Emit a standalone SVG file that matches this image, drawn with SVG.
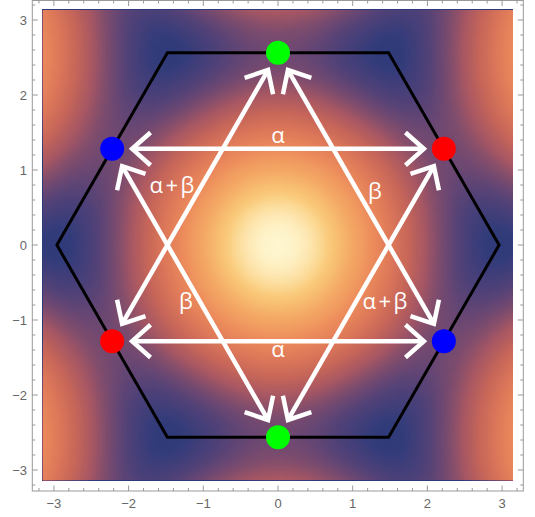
<svg xmlns="http://www.w3.org/2000/svg" xmlns:xlink="http://www.w3.org/1999/xlink" width="535" height="517" viewBox="0 0 535 517">
<style>
.tick{fill:none;stroke:#999;stroke-width:1}
.tl{font-family:"Liberation Sans",Arial,sans-serif;font-size:13px;fill:#666}
.arr{stroke:#fff;stroke-width:4.5;fill:none;marker-start:url(#hd);marker-end:url(#hd)}
.lab{font-family:"Open Sans","Noto Sans","DejaVu Sans",sans-serif;font-size:22px;fill:#fff;text-anchor:middle}
.wide{letter-spacing:2.5px}
.hex{fill:none;stroke:#000;stroke-width:3;stroke-linejoin:miter}
</style>
<defs>
<linearGradient id="gR" gradientUnits="userSpaceOnUse" x1="278" y1="245" x2="610.2" y2="245" spreadMethod="repeat">
<stop offset="0" stop-color="rgb(255,0,0)"/><stop offset="0.041667" stop-color="rgb(251,0,0)"/><stop offset="0.083333" stop-color="rgb(238,0,0)"/><stop offset="0.125" stop-color="rgb(218,0,0)"/><stop offset="0.166667" stop-color="rgb(191,0,0)"/><stop offset="0.208333" stop-color="rgb(160,0,0)"/><stop offset="0.25" stop-color="rgb(128,0,0)"/><stop offset="0.291667" stop-color="rgb(95,0,0)"/><stop offset="0.333333" stop-color="rgb(64,0,0)"/><stop offset="0.375" stop-color="rgb(37,0,0)"/><stop offset="0.416667" stop-color="rgb(17,0,0)"/><stop offset="0.458333" stop-color="rgb(4,0,0)"/><stop offset="0.5" stop-color="rgb(0,0,0)"/><stop offset="0.541667" stop-color="rgb(4,0,0)"/><stop offset="0.583333" stop-color="rgb(17,0,0)"/><stop offset="0.625" stop-color="rgb(37,0,0)"/><stop offset="0.666667" stop-color="rgb(64,0,0)"/><stop offset="0.708333" stop-color="rgb(95,0,0)"/><stop offset="0.75" stop-color="rgb(128,0,0)"/><stop offset="0.791667" stop-color="rgb(160,0,0)"/><stop offset="0.833333" stop-color="rgb(191,0,0)"/><stop offset="0.875" stop-color="rgb(218,0,0)"/><stop offset="0.916667" stop-color="rgb(238,0,0)"/><stop offset="0.958333" stop-color="rgb(251,0,0)"/><stop offset="1" stop-color="rgb(255,0,0)"/>
</linearGradient>
<linearGradient id="gG" gradientUnits="userSpaceOnUse" x1="278" y1="245" x2="444.1" y2="-42.7" spreadMethod="repeat">
<stop offset="0" stop-color="rgb(0,255,0)"/><stop offset="0.041667" stop-color="rgb(0,251,0)"/><stop offset="0.083333" stop-color="rgb(0,238,0)"/><stop offset="0.125" stop-color="rgb(0,218,0)"/><stop offset="0.166667" stop-color="rgb(0,191,0)"/><stop offset="0.208333" stop-color="rgb(0,160,0)"/><stop offset="0.25" stop-color="rgb(0,128,0)"/><stop offset="0.291667" stop-color="rgb(0,95,0)"/><stop offset="0.333333" stop-color="rgb(0,64,0)"/><stop offset="0.375" stop-color="rgb(0,37,0)"/><stop offset="0.416667" stop-color="rgb(0,17,0)"/><stop offset="0.458333" stop-color="rgb(0,4,0)"/><stop offset="0.5" stop-color="rgb(0,0,0)"/><stop offset="0.541667" stop-color="rgb(0,4,0)"/><stop offset="0.583333" stop-color="rgb(0,17,0)"/><stop offset="0.625" stop-color="rgb(0,37,0)"/><stop offset="0.666667" stop-color="rgb(0,64,0)"/><stop offset="0.708333" stop-color="rgb(0,95,0)"/><stop offset="0.75" stop-color="rgb(0,128,0)"/><stop offset="0.791667" stop-color="rgb(0,160,0)"/><stop offset="0.833333" stop-color="rgb(0,191,0)"/><stop offset="0.875" stop-color="rgb(0,218,0)"/><stop offset="0.916667" stop-color="rgb(0,238,0)"/><stop offset="0.958333" stop-color="rgb(0,251,0)"/><stop offset="1" stop-color="rgb(0,255,0)"/>
</linearGradient>
<linearGradient id="gB" gradientUnits="userSpaceOnUse" x1="278" y1="245" x2="111.9" y2="-42.7" spreadMethod="repeat">
<stop offset="0" stop-color="rgb(0,0,255)"/><stop offset="0.041667" stop-color="rgb(0,0,251)"/><stop offset="0.083333" stop-color="rgb(0,0,238)"/><stop offset="0.125" stop-color="rgb(0,0,218)"/><stop offset="0.166667" stop-color="rgb(0,0,191)"/><stop offset="0.208333" stop-color="rgb(0,0,160)"/><stop offset="0.25" stop-color="rgb(0,0,128)"/><stop offset="0.291667" stop-color="rgb(0,0,95)"/><stop offset="0.333333" stop-color="rgb(0,0,64)"/><stop offset="0.375" stop-color="rgb(0,0,37)"/><stop offset="0.416667" stop-color="rgb(0,0,17)"/><stop offset="0.458333" stop-color="rgb(0,0,4)"/><stop offset="0.5" stop-color="rgb(0,0,0)"/><stop offset="0.541667" stop-color="rgb(0,0,4)"/><stop offset="0.583333" stop-color="rgb(0,0,17)"/><stop offset="0.625" stop-color="rgb(0,0,37)"/><stop offset="0.666667" stop-color="rgb(0,0,64)"/><stop offset="0.708333" stop-color="rgb(0,0,95)"/><stop offset="0.75" stop-color="rgb(0,0,128)"/><stop offset="0.791667" stop-color="rgb(0,0,160)"/><stop offset="0.833333" stop-color="rgb(0,0,191)"/><stop offset="0.875" stop-color="rgb(0,0,218)"/><stop offset="0.916667" stop-color="rgb(0,0,238)"/><stop offset="0.958333" stop-color="rgb(0,0,251)"/><stop offset="1" stop-color="rgb(0,0,255)"/>
</linearGradient>
<filter id="cmap" x="0" y="0" width="1" height="1" color-interpolation-filters="sRGB">
<feColorMatrix type="matrix" values="0.3333 0.3333 0.3334 0 0 0.3333 0.3333 0.3334 0 0 0.3333 0.3333 0.3334 0 0 0 0 0 0 1"/>
<feComponentTransfer>
<feFuncR type="table" tableValues="0.18 0.18 0.18 0.18 0.18 0.18 0.18 0.18 0.18 0.18 0.18 0.269 0.341 0.416 0.489 0.571 0.645 0.693 0.736 0.777 0.805 0.830 0.854 0.875 0.890 0.904 0.918 0.931 0.937 0.944 0.950 0.956 0.962 0.967 0.973 0.978 0.983 0.987 0.992 0.996 1.0"/>
<feFuncG type="table" tableValues="0.23 0.23 0.23 0.23 0.23 0.23 0.23 0.23 0.23 0.23 0.23 0.247 0.262 0.280 0.298 0.319 0.339 0.360 0.380 0.399 0.419 0.439 0.458 0.477 0.496 0.516 0.534 0.553 0.580 0.605 0.630 0.654 0.681 0.714 0.746 0.778 0.814 0.857 0.895 0.934 0.97"/>
<feFuncB type="table" tableValues="0.48 0.48 0.48 0.48 0.48 0.48 0.48 0.48 0.48 0.48 0.48 0.477 0.468 0.450 0.432 0.411 0.391 0.377 0.363 0.351 0.35 0.35 0.35 0.351 0.353 0.356 0.358 0.361 0.370 0.378 0.387 0.395 0.406 0.426 0.444 0.463 0.517 0.596 0.673 0.750 0.82"/>
</feComponentTransfer>
</filter>
<marker id="hd" markerUnits="userSpaceOnUse" orient="auto-start-reverse" refX="0" refY="0" markerWidth="40" markerHeight="40" overflow="visible">
<path d="M-18.4,-16.4 L0,0 L-18.4,16.4" fill="none" stroke="#fff" stroke-width="4.5" stroke-linejoin="miter" stroke-linecap="butt"/>
</marker>
</defs>
<rect width="535" height="517" fill="#fff"/>
<g id="density" filter="url(#cmap)">
<rect x="42.5" y="9.8" width="470.5" height="470.8" fill="url(#gR)"/>
<rect x="42.5" y="9.8" width="470.5" height="470.8" fill="url(#gG)" style="mix-blend-mode:screen"/>
<rect x="42.5" y="9.8" width="470.5" height="470.8" fill="url(#gB)" style="mix-blend-mode:screen"/>
</g>
<g id="frame">
<rect x="32.3" y="0.5" width="491" height="490.5" class="tick"/>
<path class="tick" d="M38.96 491v-3M53.9 491v-5.5M68.84 491v-3M83.78 491v-3M98.72 491v-3M113.66 491v-3M128.6 491v-5.5M143.54 491v-3M158.48 491v-3M173.42 491v-3M188.36 491v-3M203.3 491v-5.5M218.24 491v-3M233.18 491v-3M248.12 491v-3M263.06 491v-3M278 491v-5.5M292.94 491v-3M307.88 491v-3M322.82 491v-3M337.76 491v-3M352.7 491v-5.5M367.64 491v-3M382.58 491v-3M397.52 491v-3M412.46 491v-3M427.4 491v-5.5M442.34 491v-3M457.28 491v-3M472.22 491v-3M487.16 491v-3M502.1 491v-5.5M517.04 491v-3"/>
<path class="tick" d="M38.96 0.5v3M53.9 0.5v5.5M68.84 0.5v3M83.78 0.5v3M98.72 0.5v3M113.66 0.5v3M128.6 0.5v5.5M143.54 0.5v3M158.48 0.5v3M173.42 0.5v3M188.36 0.5v3M203.3 0.5v5.5M218.24 0.5v3M233.18 0.5v3M248.12 0.5v3M263.06 0.5v3M278 0.5v5.5M292.94 0.5v3M307.88 0.5v3M322.82 0.5v3M337.76 0.5v3M352.7 0.5v5.5M367.64 0.5v3M382.58 0.5v3M397.52 0.5v3M412.46 0.5v3M427.4 0.5v5.5M442.34 0.5v3M457.28 0.5v3M472.22 0.5v3M487.16 0.5v3M502.1 0.5v5.5M517.04 0.5v3"/>
<path class="tick" d="M32.3 5h3M32.3 20h5.5M32.3 35h3M32.3 50h3M32.3 65h3M32.3 80h3M32.3 95h5.5M32.3 110h3M32.3 125h3M32.3 140h3M32.3 155h3M32.3 170h5.5M32.3 185h3M32.3 200h3M32.3 215h3M32.3 230h3M32.3 245h5.5M32.3 260h3M32.3 275h3M32.3 290h3M32.3 305h3M32.3 320h5.5M32.3 335h3M32.3 350h3M32.3 365h3M32.3 380h3M32.3 395h5.5M32.3 410h3M32.3 425h3M32.3 440h3M32.3 455h3M32.3 470h5.5M32.3 485h3"/>
<path class="tick" d="M523.3 5h-3M523.3 20h-5.5M523.3 35h-3M523.3 50h-3M523.3 65h-3M523.3 80h-3M523.3 95h-5.5M523.3 110h-3M523.3 125h-3M523.3 140h-3M523.3 155h-3M523.3 170h-5.5M523.3 185h-3M523.3 200h-3M523.3 215h-3M523.3 230h-3M523.3 245h-5.5M523.3 260h-3M523.3 275h-3M523.3 290h-3M523.3 305h-3M523.3 320h-5.5M523.3 335h-3M523.3 350h-3M523.3 365h-3M523.3 380h-3M523.3 395h-5.5M523.3 410h-3M523.3 425h-3M523.3 440h-3M523.3 455h-3M523.3 470h-5.5M523.3 485h-3"/>
<g class="tl" text-anchor="end">
<text x="27" y="24.5">3</text><text x="27" y="99.5">2</text><text x="27" y="174.5">1</text><text x="27" y="249.5">0</text><text x="27" y="324.5">−1</text><text x="27" y="399.5">−2</text><text x="27" y="474.5">−3</text>
</g>
<g class="tl" text-anchor="middle">
<text x="53.9" y="508">−3</text><text x="128.6" y="508">−2</text><text x="203.3" y="508">−1</text><text x="278" y="508">0</text><text x="352.7" y="508">1</text><text x="427.4" y="508">2</text><text x="502.1" y="508">3</text>
</g>
</g>
<g id="hexagon">
<polygon class="hex" points="56.9,245 167.4,52.7 388.6,52.7 499.1,245 388.6,437.3 167.4,437.3"/>
</g>
<g id="connectors">
<line class="arr" x1="132.15" y1="148.85" x2="423.85" y2="148.85"/>
<line class="arr" x1="132.15" y1="341.15" x2="423.85" y2="341.15"/>
<line class="arr" x1="122.12" y1="323.81" x2="268.03" y2="70.04"/>
<line class="arr" x1="287.97" y1="70.04" x2="433.88" y2="323.81"/>
<line class="arr" x1="122.12" y1="166.19" x2="268.03" y2="419.96"/>
<line class="arr" x1="287.97" y1="419.96" x2="433.88" y2="166.19"/>
</g>
<g id="labels" class="lab">
<text x="278" y="143">α</text>
<text x="278" y="357">α</text>
<text class="wide" x="173.2" y="193">α+β</text>
<text x="375" y="199">β</text>
<text x="186" y="309">β</text>
<text class="wide" x="386.2" y="309">α+β</text>
</g>
<g id="node-top"><circle cx="278" cy="52.7" r="12" fill="#00ff00"/></g>
<g id="node-bottom"><circle cx="278" cy="437.3" r="12" fill="#00ff00"/></g>
<g id="node-upper-right"><circle cx="443.85" cy="148.85" r="12" fill="#ff0000"/></g>
<g id="node-lower-left"><circle cx="112.15" cy="341.15" r="12" fill="#ff0000"/></g>
<g id="node-upper-left"><circle cx="112.15" cy="148.85" r="12" fill="#0000ff"/></g>
<g id="node-lower-right"><circle cx="443.85" cy="341.15" r="12" fill="#0000ff"/></g>
</svg>
